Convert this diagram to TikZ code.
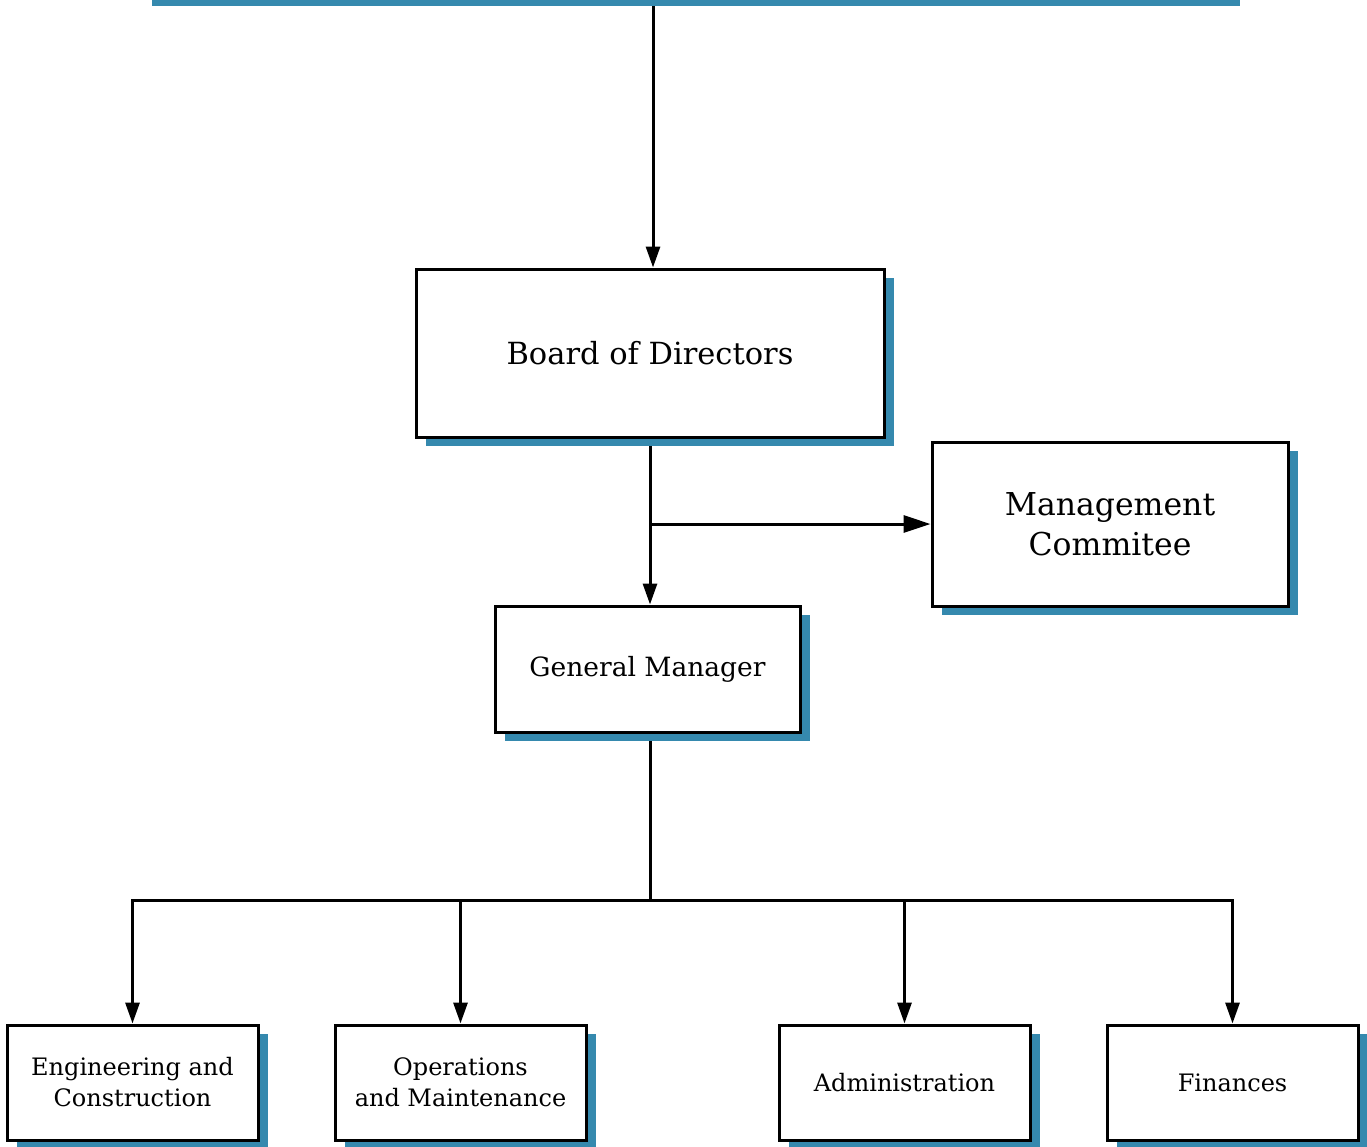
\documentclass[tikz,border=0pt]{standalone}
\usepackage{fontspec}
\setmainfont{DejaVu Serif}
\usetikzlibrary{arrows.meta,shadows,backgrounds}
\definecolor{boxblue}{HTML}{3589AE}
\begin{document}
\begin{tikzpicture}[x=1pt,y=-1pt,
  every path/.style={line width=3pt},
  orgbox/.style={draw=black,line width=3pt,fill=white,align=center,inner sep=0pt,
    drop shadow={shadow xshift=10pt,shadow yshift=-9pt,fill=boxblue,opacity=1}},
  subbox/.style={orgbox,minimum width=251pt,minimum height=115pt,
    font=\fontsize{24}{31}\selectfont},
  link/.style={-{Triangle[length=21pt,width=14pt]}},
  biglink/.style={-{Triangle[length=27pt,width=17pt]}}]
\useasboundingbox (0,0) rectangle (1367,1146);
\fill[boxblue] (152,0) rectangle (1240,6);
\coordinate (top) at (653,6);
\node[orgbox,minimum width=468pt,minimum height=168pt,
  font=\fontsize{30.5}{36}\selectfont] (board) at (650,353) {Board of Directors};
\node[orgbox,minimum width=356pt,minimum height=164pt,
  font=\fontsize{31.5}{40}\selectfont] (mgmt) at (1110,524) {Management\\Commitee};
\node[orgbox,minimum width=305pt,minimum height=126pt,
  font=\fontsize{26.5}{32}\selectfont] (gm) at (647.5,669) {General Manager};
\node[subbox] (eng) at (132.5,1082.5) {Engineering and\\Construction};
\node[subbox] (ops) at (460.5,1082.5) {Operations\\and Maintenance};
\node[subbox] (adm) at (904.5,1082.5) {Administration};
\node[subbox] (fin) at (1232.5,1082.5) {Finances};
\coordinate (bus) at (650,900);
\begin{pgfonlayer}{background}
\draw[link] (top) -- (top |- board.north);
\draw[link] (board.south) -- (board.south |- gm.north);
\draw[biglink] (board.south |- mgmt.west) -- (mgmt.west);
\draw (board.south |- gm.south) -- (bus);
\foreach \n in {eng,ops,adm,fin}
  \draw[link] (bus) -| (\n.north);
\end{pgfonlayer}
\end{tikzpicture}
\end{document}
